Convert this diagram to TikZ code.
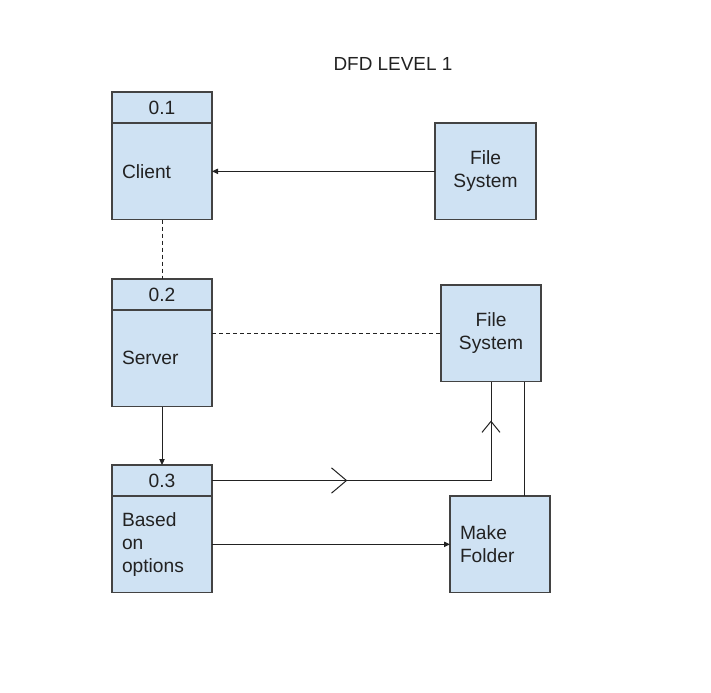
\documentclass[tikz,border=0pt]{standalone}
\usepackage{fontspec}
\setmainfont{Liberation Sans}
\usetikzlibrary{arrows.meta,calc,decorations.markings}
\definecolor{paper}{HTML}{FFFFFF}
\definecolor{ink}{HTML}{222222}
\definecolor{edge}{HTML}{434343}
\definecolor{boxfill}{HTML}{CFE2F3}
\newcommand{\boxfont}{\fontsize{14.4}{17.4}\selectfont}
\newcommand{\titlefont}{\fontsize{14.2}{17}\selectfont}
\tikzset{
  shell/.style={draw=edge,fill=boxfill,line width=1pt,outer sep=0pt,
                font=\boxfont,text=ink},
  headbox/.style={shell,minimum width=75pt,minimum height=23.25pt,inner sep=0pt},
  procbox/.style={shell,text width=60pt,inner xsep=7.5pt,inner ysep=0pt,
                  minimum height=72.5pt,align=left},
  storebox/.style={shell,minimum width=75pt,minimum height=72.5pt,
                   inner sep=0pt,align=center},
  folderbox/.style={procbox},
  flow/.style={draw=ink,line width=.75pt},
  dataflow/.style={flow,-{Triangle[length=4.5pt,width=4pt]}},
  linkline/.style={flow,dash pattern=on 3pt off 2.25pt}
}
\begin{document}
\begin{tikzpicture}[x=.75pt,y=-.75pt]
  \fill[paper] (0,0) rectangle (711,693);
  \useasboundingbox (0,0) rectangle (711,693);

  \node[font=\titlefont,text=ink] (title) at (393,63.5) {DFD LEVEL 1};

  % processes
  \node[headbox,anchor=north west] (clienth) at (112,92) {0.1};
  \node[procbox,anchor=north] (client) at (clienth.south) {Client};

  \node[headbox,anchor=north west] (serverh) at (112,279) {0.2};
  \node[procbox,anchor=north] (server) at (serverh.south) {Server};

  \node[headbox,anchor=north west] (optionsh) at (112,465) {0.3};
  \node[procbox,anchor=north] (options) at (optionsh.south) {Based\\on\\options};

  % stores
  \node[storebox,minimum width=75.75pt,anchor=north west] (filesa) at (435,123)
    {File\\System};
  \node[storebox,anchor=north west] (filesb) at (441,285) {File\\System};
  \node[folderbox,anchor=north west] (folder) at (450,496) {Make\\Folder};
  \coordinate (tap) at ($(filesb.south)+(33,0)$);

  % flows
  \draw[dataflow] (filesa.west) -- (filesa.west -| client.east);
  \draw[linkline] (client.south) -- (serverh.north);
  \draw[linkline] (server.east |- filesb.west) -- (filesb.west);
  \draw[dataflow] (server.south) -- (optionsh.north);
  \draw[dataflow] (options.east) -- (folder.west);
  \draw[flow,postaction={decorate},decoration={markings,
      mark=at position .358 with {\arrow{Straight Barb[length=11.25pt,width=19pt]}},
      mark=at position .897 with {\arrow{Straight Barb[length=8.25pt,width=13.5pt]}}}]
    (optionsh.east) -| (filesb.south);
  \draw[flow] (tap) -- (tap |- folder.north);
\end{tikzpicture}
\end{document}
